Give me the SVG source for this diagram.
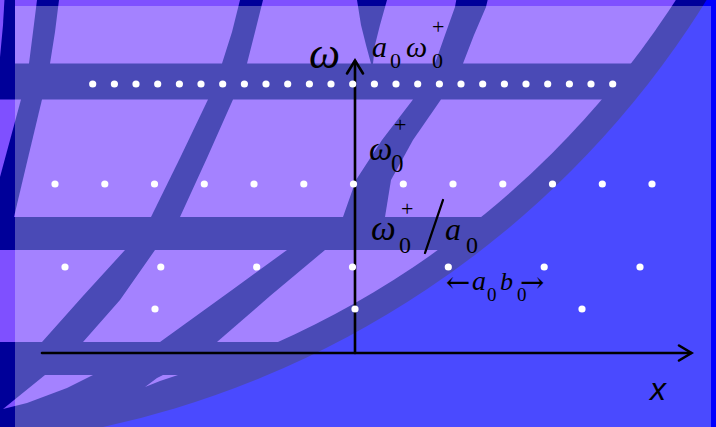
<svg xmlns="http://www.w3.org/2000/svg" width="716" height="427" viewBox="0 0 716 427">
<defs>
<style>
.navy{fill:#000099}
.cell{fill:#7f50ff}
.dot{fill:#ffffff}
.ax{stroke:#000;stroke-width:2.6;fill:none;stroke-linecap:round}
.m{font-family:"Liberation Serif","Times New Roman",serif;font-style:italic;fill:#000}
.n{font-family:"Liberation Serif","Times New Roman",serif;fill:#000}
.arr{font-family:"DejaVu Serif",serif;fill:#000}
.s{font-family:"Liberation Sans",Arial,sans-serif;font-style:italic;fill:#000}
</style>
<clipPath id="inner"><circle cx="-100" cy="-500" r="923"/></clipPath>
</defs>
<g id="background">
<rect width="716" height="427" fill="#0000ff"/>
<circle cx="-100" cy="-500" r="949" class="navy"/>
</g>
<g id="cells" class="cell" clip-path="url(#inner)">
<polygon points="-10,-10 5,-10 3,25 0,57 -10,60"/>
<polygon points="15,-10 38.5,-10 37,0 33,32 29,63.5 15,63.5"/>
<polygon points="60.5,-10 59,0 55,32 50,63.5 222,63.5 232,32 240,0 242.5,-10"/>
<polygon points="265.5,-10 263,0 255,32 247,63.5 371,63.5 366,45 361,25 357,0 356,-10"/>
<polygon points="389,-10 387,0 380,25 375,45 373,63.5 435,63.5 445,35 455,7 458,-10"/>
<polygon points="490,-10 720,-10 720,63.5 463,63.5 474,35 486,7"/>
<polygon points="-10,99.5 21,99.5 0,177 -10,204"/>
<polygon points="42,99.5 208,99.5 180,158 151,217 14,217 28,158"/>
<polygon points="233,99.5 413,99.5 382,140 356,180 343,217 180,217 207,158"/>
<polygon points="441,99.5 720,99.5 720,217 385,217 391,180 413,140"/>
<polygon points="-10,250 125,250 83,296 42,342 -10,342"/>
<polygon points="155,250 287,250 232,290 160,342 83,342 120,300"/>
<polygon points="325,250 720,250 720,342 217,342 270,296"/>
<polygon points="45,375 93,375 67,388 27,403 3,409"/>
<polygon points="163,375 178,375 160,381 145,387 157,378"/>
</g>
<rect id="overlay" x="15" y="6" width="696" height="421" fill="#ffffff" fill-opacity="0.29"/>
<g id="axes" class="ax">
<line x1="42" y1="353" x2="691" y2="353"/>
<polyline points="679,345.5 691.5,353 679,360.5"/>
<line x1="355" y1="353" x2="355" y2="61"/>
<polyline points="347,73.5 355,60.5 363,73.5"/>
<line x1="443" y1="200" x2="425" y2="253" stroke-width="2.3"/>
</g>
<g id="dots" class="dot">
<circle cx="92.7" cy="84" r="3.6"/><circle cx="114.4" cy="84" r="3.6"/><circle cx="136" cy="84" r="3.6"/><circle cx="157.7" cy="84" r="3.6"/><circle cx="179.4" cy="84" r="3.6"/><circle cx="201" cy="84" r="3.6"/><circle cx="222.7" cy="84" r="3.6"/><circle cx="244.4" cy="84" r="3.6"/><circle cx="266" cy="84" r="3.6"/><circle cx="287.7" cy="84" r="3.6"/><circle cx="309.4" cy="84" r="3.6"/><circle cx="331" cy="84" r="3.6"/><circle cx="352.7" cy="84" r="3.6"/><circle cx="374.4" cy="84" r="3.6"/><circle cx="396" cy="84" r="3.6"/><circle cx="417.7" cy="84" r="3.6"/><circle cx="439.4" cy="84" r="3.6"/><circle cx="461" cy="84" r="3.6"/><circle cx="482.7" cy="84" r="3.6"/><circle cx="504.4" cy="84" r="3.6"/><circle cx="526" cy="84" r="3.6"/><circle cx="547.7" cy="84" r="3.6"/><circle cx="569.4" cy="84" r="3.6"/><circle cx="591" cy="84" r="3.6"/><circle cx="612.7" cy="84" r="3.6"/>
<circle cx="55" cy="184" r="3.6"/><circle cx="104.8" cy="184" r="3.6"/><circle cx="154.5" cy="184" r="3.6"/><circle cx="204.3" cy="184" r="3.6"/><circle cx="254" cy="184" r="3.6"/><circle cx="303.8" cy="184" r="3.6"/><circle cx="353.5" cy="184" r="3.6"/><circle cx="403.3" cy="184" r="3.6"/><circle cx="453" cy="184" r="3.6"/><circle cx="502.8" cy="184" r="3.6"/><circle cx="552.5" cy="184" r="3.6"/><circle cx="602.3" cy="184" r="3.6"/><circle cx="652" cy="184" r="3.6"/>
<circle cx="65" cy="267" r="3.6"/><circle cx="160.8" cy="267" r="3.6"/><circle cx="256.7" cy="267" r="3.6"/><circle cx="352.5" cy="267" r="3.6"/><circle cx="448.3" cy="267" r="3.6"/><circle cx="544.2" cy="267" r="3.6"/><circle cx="640" cy="267" r="3.6"/>
<circle cx="155" cy="309" r="3.6"/><circle cx="355" cy="309" r="3.6"/><circle cx="582" cy="309" r="3.6"/>
</g>
<g id="labels">
<text class="m" x="309" y="68" font-size="44">ω</text>
<text class="m" x="372" y="57" font-size="30">a</text>
<text class="n" x="390" y="68" font-size="22">0</text>
<text class="m" x="406" y="57" font-size="30">ω</text>
<text class="n" x="432" y="68" font-size="22">0</text>
<text class="n" x="432" y="33.5" font-size="22">+</text>
<text class="m" x="369" y="160" font-size="33">ω</text>
<text class="n" x="391" y="172" font-size="25">0</text>
<text class="n" x="394" y="132" font-size="22">+</text>
<text class="m" x="371" y="240" font-size="35">ω</text>
<text class="n" x="399" y="253" font-size="24">0</text>
<text class="n" x="401" y="215.5" font-size="22">+</text>
<text class="m" x="445" y="240" font-size="32">a</text>
<text class="n" x="466" y="253" font-size="24">0</text>
<text class="arr" x="446" y="292" font-size="29">←</text>
<text class="m" x="472" y="290" font-size="28">a</text>
<text class="n" x="487" y="301" font-size="19">0</text>
<text class="m" x="500" y="290" font-size="26">b</text>
<text class="n" x="517" y="301" font-size="19">0</text>
<text class="arr" x="520" y="292" font-size="29">→</text>
<text class="s" x="650" y="400" font-size="32">x</text>
</g>
</svg>
